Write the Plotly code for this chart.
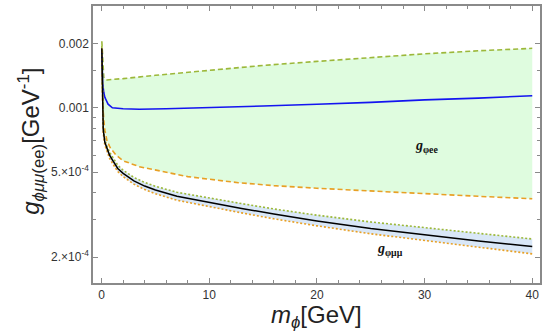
import plotly.graph_objects as go

# ---------------- data ----------------
# upper bound of g_phi_ee region (green dashed)
x_ee_up = [0.02, 0.05, 0.1, 0.15, 0.2, 0.3, 0.5, 1, 2, 5, 10, 15, 20, 25, 30, 35, 40]
y_ee_up = [0.00205, 0.0019, 0.0016, 0.00145, 0.00139, 0.00136, 0.00135, 0.00136, 0.00137,
           0.00142, 0.0015, 0.00158, 0.00165, 0.00172, 0.00179, 0.00185, 0.0019]

# lower bound of g_phi_ee region (orange dashed)
x_ee_lo = [0.02, 0.05, 0.1, 0.2, 0.3, 0.5, 0.8, 1.35, 2, 3.5, 5, 8, 12.7, 16, 20, 25, 30, 35, 40]
y_ee_lo = [0.0019, 0.0014, 0.00105, 0.00088, 0.000786, 0.0007, 0.00065, 0.0006, 0.000565,
           0.00053, 0.00051, 0.000476, 0.000446, 0.000432, 0.00042, 0.000407, 0.000395,
           0.000385, 0.000375]

# central g_phi_ee curve (blue)
x_ee_c = [0.02, 0.05, 0.1, 0.2, 0.3, 0.6, 1, 2, 3.5, 6, 10, 15, 20, 25, 30, 35, 40]
y_ee_c = [0.0018, 0.0015, 0.0013, 0.00118, 0.00112, 0.00104, 0.001, 0.00099, 0.000985,
          0.00099, 0.001, 0.00102, 0.00104, 0.00106, 0.00109, 0.00111, 0.00114]

# central g_phi_mumu curve (black) and band (green dotted / orange dotted)
x_mm = [0.02, 0.05, 0.1, 0.15, 0.3, 0.5, 0.74, 1, 1.5, 2, 3, 4, 5, 7, 10, 13, 16, 20, 25, 30, 35, 40]
y_mm_c = [0.0019, 0.0013, 0.00092, 0.00079, 0.00069, 0.00064, 0.0006, 0.00057, 0.00052,
          0.000493, 0.000455, 0.00043, 0.000412, 0.000385, 0.00036, 0.000338, 0.000318,
          0.000295, 0.000272, 0.000254, 0.000238, 0.000224]
y_mm_up = [0.00195, 0.00134, 0.00095, 0.000815, 0.000712, 0.00066, 0.00062, 0.00059, 0.000538,
           0.00051, 0.000472, 0.000447, 0.000429, 0.000402, 0.000377, 0.000356, 0.000336,
           0.000314, 0.000292, 0.000274, 0.000258, 0.000243]
y_mm_lo = [0.00185, 0.00126, 0.00089, 0.000765, 0.000668, 0.00062, 0.00058, 0.000551, 0.000503,
           0.000476, 0.000439, 0.000414, 0.000396, 0.000369, 0.000344, 0.000322, 0.000302,
           0.00028, 0.000257, 0.000239, 0.000222, 0.000207]

x_ticks = [0, 10, 20, 30, 40]
x_minor = [2, 4, 6, 8, 12, 14, 16, 18, 22, 24, 26, 28, 32, 34, 36, 38]
y_ticks = [0.002, 0.001, 0.0005, 0.0002]
y_ticktext = ["0.002", "0.001", "5.×10<sup>-4</sup>", "2.×10<sup>-4</sup>"]
y_minor = [0.0003, 0.0004, 0.0006, 0.0007, 0.0008, 0.0009, 0.0015]

label_ee = "<b><i>g</i><sub>φee</sub></b>"
label_mm = "<b><i>g</i><sub>φμμ</sub></b>"

GREEN = "#9cb83a"
ORANGE = "#e8a025"

fig = go.Figure()

# green region
fig.add_trace(go.Scatter(
    x=x_ee_up + x_ee_lo[::-1], y=y_ee_up + y_ee_lo[::-1],
    fill="toself", fillcolor="#dffcdf", line=dict(width=0), mode="lines",
    hoverinfo="skip", showlegend=False))
# blue band for mumu
fig.add_trace(go.Scatter(
    x=x_mm + x_mm[::-1], y=y_mm_up + y_mm_lo[::-1],
    fill="toself", fillcolor="#d9e7f7", line=dict(width=0), mode="lines",
    hoverinfo="skip", showlegend=False))

fig.add_trace(go.Scatter(x=x_ee_up, y=y_ee_up, mode="lines",
                         line=dict(color=GREEN, width=1.6, dash="5px,3px"), showlegend=False))
fig.add_trace(go.Scatter(x=x_ee_lo, y=y_ee_lo, mode="lines",
                         line=dict(color=ORANGE, width=1.6, dash="5px,3px"), showlegend=False))
fig.add_trace(go.Scatter(x=x_ee_c, y=y_ee_c, mode="lines",
                         line=dict(color="#1414f0", width=1.6), showlegend=False))
fig.add_trace(go.Scatter(x=x_mm, y=y_mm_up, mode="lines",
                         line=dict(color=GREEN, width=1.6, dash="2px,2px"), showlegend=False))
fig.add_trace(go.Scatter(x=x_mm, y=y_mm_lo, mode="lines",
                         line=dict(color=ORANGE, width=1.6, dash="2px,2px"), showlegend=False))
fig.add_trace(go.Scatter(x=x_mm, y=y_mm_c, mode="lines",
                         line=dict(color="black", width=1.5), showlegend=False))

fig.add_annotation(x=30.2, y=-3.18, xref="x", yref="y", text=label_ee, showarrow=False,
                   font=dict(family="Liberation Serif", size=14, color="#111"))
fig.add_annotation(x=26.8, y=-3.665, xref="x", yref="y", text=label_mm, showarrow=False,
                   font=dict(family="Liberation Serif", size=14, color="#111"))

fig.add_annotation(x=0.5, y=-0.12, xref="paper", yref="paper", yanchor="middle",
                   text="<i>m</i><sub><i>ϕ</i></sub>[GeV]", showarrow=False,
                   font=dict(family="Liberation Sans", size=24, color="#222"))
fig.add_annotation(x=-0.139, y=0.513, xref="paper", yref="paper", textangle=-90,
                   xanchor="center", yanchor="middle",
                   text="<i>g</i><sub><i>ϕμμ</i>(ee)</sub>[GeV<sup>-1</sup>]", showarrow=False,
                   font=dict(family="Liberation Sans", size=24, color="#222"))

axis_common = dict(showline=True, linecolor="#8a8a8a", linewidth=1.5, mirror="ticks",
                   ticks="inside", ticklen=5, tickcolor="#8a8a8a", tickwidth=1,
                   showgrid=False, zeroline=False,
                   tickfont=dict(family="Liberation Sans", size=12, color="#333"))

fig.update_xaxes(range=[-0.8, 40.72], tickvals=x_ticks,
                 minor=dict(tickvals=x_minor, ticks="inside", ticklen=3, tickcolor="#8a8a8a"),
                 **axis_common)
fig.update_yaxes(type="log", range=[-3.8206, -2.523], tickvals=y_ticks, ticktext=y_ticktext,
                 minor=dict(tickvals=y_minor, ticks="inside", ticklen=3, tickcolor="#8a8a8a"),
                 **axis_common)

fig.update_layout(width=544, height=332, margin=dict(l=93, r=2, t=6, b=49),
                  plot_bgcolor="white", paper_bgcolor="white")

fig.write_html("out.html", config={"displayModeBar": False},
               post_script="document.body.style.margin='0';document.body.style.padding='0';")
